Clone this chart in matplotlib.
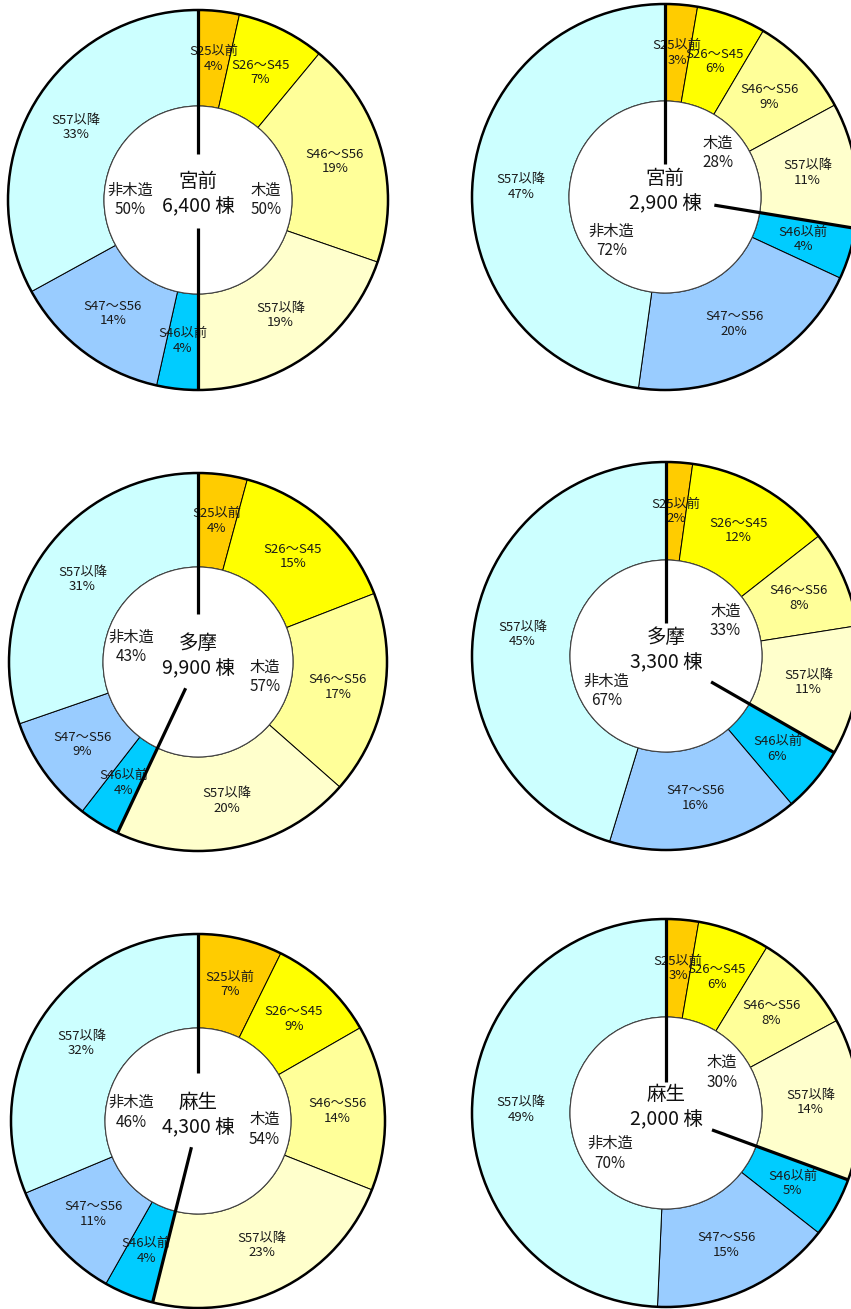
import numpy as np
import matplotlib
matplotlib.use("Agg")
import matplotlib.pyplot as plt
from matplotlib.patches import Circle

plt.rcParams['font.family'] = ['Noto Sans CJK JP', 'DejaVu Sans']

# data
regions = ['宮前', '宮前', '多摩', '多摩', '麻生', '麻生']
totals = ['6,400', '2,900', '9,900', '3,300', '4,300', '2,000']
categories = ['S25以前', 'S26～S45', 'S46～S56', 'S57以降',   # 木造
              'S46以前', 'S47～S56', 'S57以降']              # 非木造
# shares (percent)
shares = [
    [3.5, 7.5, 19.3, 19.7, 3.5, 13.5, 33.0],
    [2.7, 5.8, 8.6, 10.5, 4.3, 20.3, 47.8],
    [4.2, 14.9, 17.4, 20.5, 3.5, 9.2, 30.3],
    [2.2, 12.2, 8.1, 10.8, 5.5, 15.9, 45.3],
    [7.3, 9.4, 14.3, 22.9, 4.3, 10.5, 31.3],
    [2.7, 6.0, 8.4, 13.5, 5.0, 15.1, 49.3],
]
# percentages as printed on the chart
printed = [
    [4, 7, 19, 19, 4, 14, 33],
    [3, 6, 9, 11, 4, 20, 47],
    [4, 15, 17, 20, 4, 9, 31],
    [2, 12, 8, 11, 6, 16, 45],
    [7, 9, 14, 23, 4, 11, 32],
    [3, 6, 8, 14, 5, 15, 49],
]
wood_pct = [50, 28, 57, 33, 54, 30]
nonwood_pct = [50, 72, 43, 67, 46, 70]

colors = ['#FFCC00', '#FFFF00', '#FFFF99', '#FFFFCC',
          '#00CCFF', '#99CCFF', '#CCFFFF']

# layout in pixels (x, y from top), outer radius, inner radius
W, H = 851, 1309
centers = [(198, 200), (665, 197), (198, 662), (666, 656), (198, 1121), (666, 1113)]
r_out = [190, 193, 189, 194, 187, 194]
r_in = [94, 96, 95, 96, 93, 96]
# where the thick divider lines start (distance from centre): top, wood/non-wood
line_start = [(46, 28), (33, 50), (48, 29), (33, 52), (48, 27), (31, 49)]

fig = plt.figure(figsize=(W / 100, H / 100), dpi=100)
ax = fig.add_axes([0, 0, 1, 1])

for i in range(6):
    cx, cy = centers[i][0], H - centers[i][1]
    R, r = r_out[i], r_in[i]
    labels = [f'{c}\n{p}%' for c, p in zip(categories, printed[i])]
    ax.pie(shares[i], center=(cx, cy), radius=R, startangle=90, counterclock=False,
           colors=colors, labels=labels, labeldistance=(R + r) / 2 / R,
           wedgeprops=dict(width=R - r, edgecolor='black', linewidth=0.7),
           textprops=dict(ha='center', va='center', fontsize=9.5, color='#1a1a1a',
                          linespacing=1.15))
    # inner ring: wood / non-wood
    ax.pie([wood_pct[i], nonwood_pct[i]], center=(cx, cy), radius=r, startangle=90,
           counterclock=False, colors=['white', 'white'],
           labels=[f'木造\n{wood_pct[i]}%', f'非木造\n{nonwood_pct[i]}%'],
           labeldistance=0.72, wedgeprops=dict(linewidth=0),
           textprops=dict(ha='center', va='center', fontsize=11, color='#1a1a1a',
                          linespacing=1.2))
    ax.add_patch(Circle((cx, cy), r, fill=False, edgecolor='#444444', linewidth=0.8, zorder=3))
    ax.add_patch(Circle((cx, cy), R, fill=False, edgecolor='black', linewidth=1.8, zorder=3))

    # thick divider lines at 0 deg and at the wood / non-wood boundary
    wood_share = sum(shares[i][:4])
    for frac, r0 in [(0, line_start[i][0]), (wood_share / 100, line_start[i][1])]:
        ang = np.deg2rad(90 - 360 * frac)
        ax.plot([cx + r0 * np.cos(ang), cx + R * np.cos(ang)],
                [cy + r0 * np.sin(ang), cy + R * np.sin(ang)],
                color='black', linewidth=2.3, solid_capstyle='butt', zorder=4)

    ax.text(cx, cy + 6, f'{regions[i]}\n{totals[i]} 棟', ha='center', va='center',
            fontsize=14, color='#111111', linespacing=1.3, zorder=5)

ax.set_xlim(0, W)
ax.set_ylim(0, H)
ax.set_aspect('equal')
ax.axis('off')

fig.savefig('out.png', dpi=100)
